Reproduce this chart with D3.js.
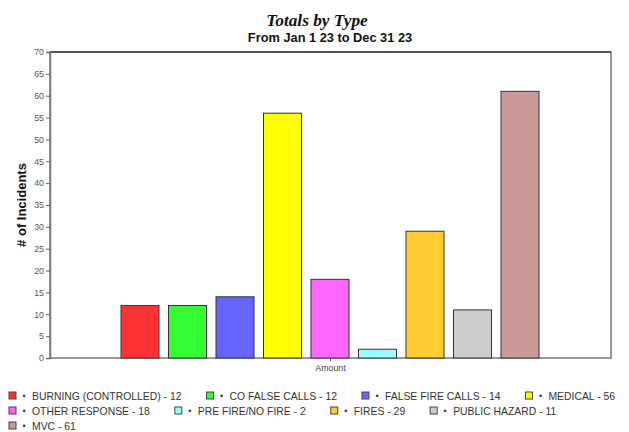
<!DOCTYPE html>
<html><head><meta charset="utf-8">
<script src="https://cdn.jsdelivr.net/npm/d3@7"></script>
<style>body{margin:0;background:#fff}svg{display:block}</style>
</head><body>
<svg id="c" width="629" height="432"></svg>
<script>
const categories = ["BURNING (CONTROLLED)", "CO FALSE CALLS", "FALSE FIRE CALLS", "MEDICAL", "OTHER RESPONSE", "PRE FIRE/NO FIRE", "FIRES", "PUBLIC HAZARD", "MVC"];
const values = [12, 12, 14, 56, 18, 2, 29, 11, 61];
const colors = ["#FF3333", "#33FF33", "#6666FF", "#FFFF00", "#FF66FF", "#99FFFF", "#FFCC33", "#CCCCCC", "#CC9999"];
const yTicks = [0,5,10,15,20,25,30,35,40,45,50,55,60,65,70];
const title = "Totals by Type";
const subtitle = "From Jan 1 23 to Dec 31 23";
const yTitle = "# of Incidents";
const xTitle = "Amount";

const svg = d3.select("#c");
const L = 50, R = 611, T = 52, B = 358;
const y = d3.scaleLinear().domain([0, 70]).range([B, T]);
const x = d3.scaleBand().domain(categories).range([121, 539]).paddingInner(0.2).paddingOuter(0);

// frame
svg.append("rect").attr("x", L).attr("y", T).attr("width", R - L).attr("height", B - T)
  .attr("fill", "#fff").attr("stroke", "#777").attr("stroke-width", 1.5);
svg.append("line").attr("x1", L).attr("x2", R).attr("y1", T).attr("y2", T).attr("stroke", "#111").attr("stroke-width", 1.2);

// bars
svg.append("g").selectAll("rect").data(categories).join("rect")
  .attr("x", d => x(d)).attr("width", x.bandwidth())
  .attr("y", (d, i) => y(values[i])).attr("height", (d, i) => B - y(values[i]))
  .attr("fill", (d, i) => colors[i]).attr("stroke", "#333").attr("stroke-width", 1);

// y axis
const ya = svg.append("g").attr("transform", `translate(${L},0)`)
  .call(d3.axisLeft(y).tickValues(yTicks).tickSize(4).tickPadding(2));
ya.select(".domain").attr("stroke", "#777").attr("stroke-width", 1.5);
ya.selectAll(".tick line").attr("stroke", "#666");
ya.selectAll(".tick text").attr("font-family", "Arial, 'Liberation Sans', sans-serif").attr("font-size", 8.8).attr("fill", "#555");

// x axis center tick and label
const xc = (L + R) / 2;
svg.append("line").attr("x1", xc).attr("x2", xc).attr("y1", B).attr("y2", B + 3).attr("stroke", "#555");
svg.append("text").attr("x", xc).attr("y", 371).attr("text-anchor", "middle")
  .attr("font-family", "Arial, 'Liberation Sans', sans-serif").attr("font-size", 8.8).attr("fill", "#444").text(xTitle);

// titles
svg.append("text").attr("x", 317).attr("y", 26).attr("text-anchor", "middle")
  .attr("font-family", "'Times New Roman', 'Liberation Serif', serif").attr("font-style", "italic").attr("font-weight", "bold")
  .attr("font-size", 17.3).attr("fill", "#111").text(title);
svg.append("text").attr("x", 330).attr("y", 41.5).attr("text-anchor", "middle")
  .attr("font-family", "Arial, 'Liberation Sans', sans-serif").attr("font-weight", "bold")
  .attr("font-size", 12.8).attr("fill", "#111").text(subtitle);
svg.append("text").attr("transform", `translate(26,${(T + B) / 2}) rotate(-90)`).attr("text-anchor", "middle")
  .attr("font-family", "Arial, 'Liberation Sans', sans-serif").attr("font-weight", "bold")
  .attr("font-size", 13).attr("fill", "#111").text(yTitle);

// legend (flow layout)
const lg = svg.append("g");
let lx = 9, row = 0;
const rowY = [400, 415, 430];
categories.forEach((c, i) => {
  const g = lg.append("g");
  const t = g.append("text").attr("font-family", "Arial, 'Liberation Sans', sans-serif").attr("font-size", 10.4)
    .attr("fill", "#333").text(c + " - " + values[i]);
  const w = t.node().getComputedTextLength();
  if (lx + 23 + w > 626) { row++; lx = 9; }
  const by = rowY[row];
  g.append("rect").attr("x", lx).attr("y", by - 8).attr("width", 7).attr("height", 7)
    .attr("fill", colors[i]).attr("stroke", "#444").attr("stroke-width", 1);
  g.append("text").attr("x", lx + 15).attr("y", by - 1).attr("font-family", "Arial, sans-serif").attr("font-size", 9)
    .attr("text-anchor", "middle").attr("fill", "#333").text("•");
  t.attr("x", lx + 23).attr("y", by);
  lx += 23 + w + 25;
});
</script>
</body></html>
